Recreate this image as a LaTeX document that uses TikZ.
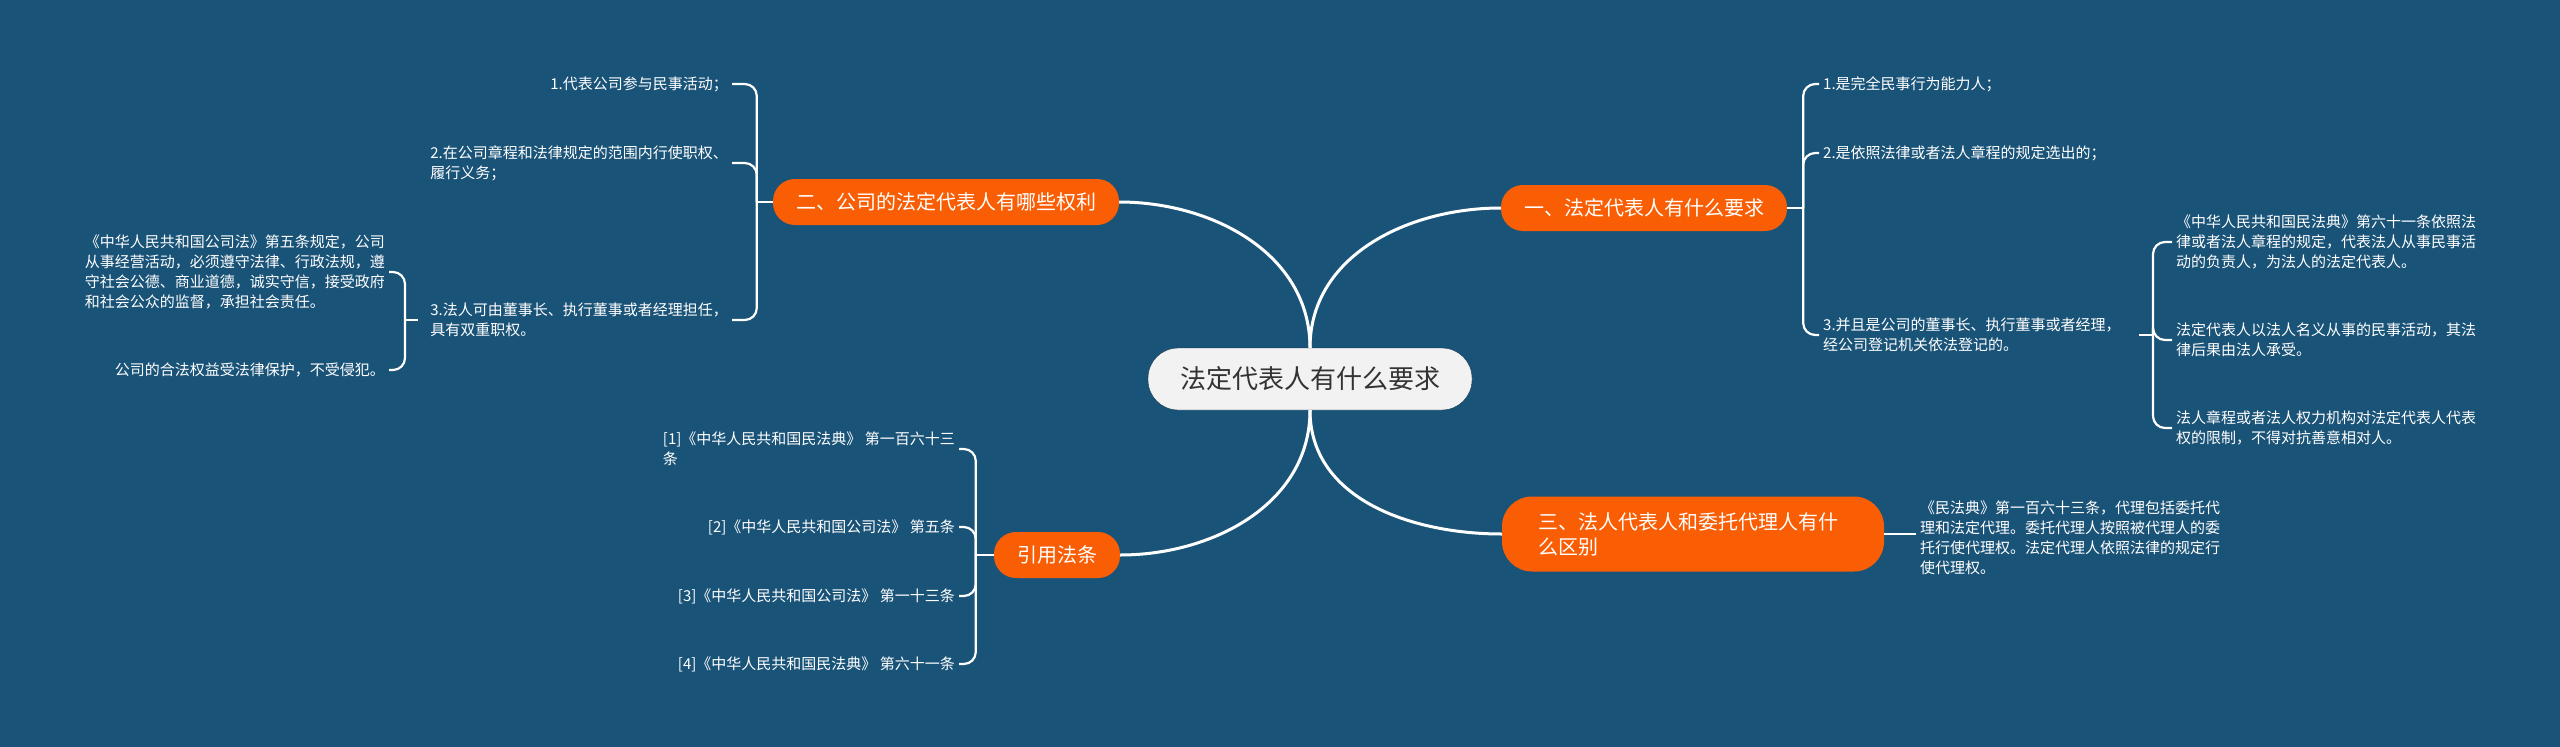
\documentclass[tikz,border=0pt]{standalone}
\usepackage{fontspec}
\setmainfont{Noto Sans CJK SC}
\usetikzlibrary{calc,positioning}
\definecolor{backblue}{RGB}{26,83,120}
\definecolor{topicorange}{RGB}{249,94,4}
\definecolor{rootgrey}{RGB}{242,242,242}
\definecolor{roottext}{RGB}{51,51,51}
\tikzset{
   root/.style={ rectangle, fill=rootgrey, draw=backblue!60!black, thin, text=roottext, rounded corners=30pt, minimum height=62pt, inner xsep=32pt, inner ysep=0pt, font=\fontsize{26}{30}\selectfont},
   topic/.style={ rectangle, fill=topicorange, text=white, rounded corners=22pt, minimum height=46pt, inner xsep=23pt, inner ysep=0pt, font=\fontsize{20}{25}\selectfont},
   leaf/.style={ text=white, inner sep=4pt, align=left, font=\fontsize{15}{20}\selectfont},
   trunk/.style={ draw=white, line width=3pt},
   brace/.style={ draw=white, line width=2.2pt, rounded corners=12pt}
}

\begin{document}
\begin{tikzpicture}[x=1pt,y=-1pt]

  \fill[backblue] (0,0) rectangle (2560,747);
  \useasboundingbox (0,0) rectangle (2560,747);

  \node[root] at (1310,379) (root) {法定代表人有什么要求};

  \node[topic] at (1644,208) (requirements) {一、法定代表人有什么要求};
  \node[topic] at (946,202)  (powers)       {二、公司的法定代表人有哪些权利};
  \node[topic, text width=310pt, align=left, rounded corners=30pt, inner xsep=36pt, minimum height=75pt] at (1693,534) (difference) {三、法人代表人和委托代理人有什\\么区别};
  \node[topic] at (1057,555) (citations)    {引用法条};

  %%%%%%%%%%%

  \node[leaf, anchor=west] at (1819,84)  (req 1) {1.是完全民事行为能力人；};
  \node[leaf, anchor=west] at (1819,153) (req 2) {2.是依照法律或者法人章程的规定选出的；};
  \node[leaf, anchor=west] at (1819,335) (req 3) {3.并且是公司的董事长、执行董事或者经理，\\经公司登记机关依法登记的。};

  \node[leaf, anchor=west] at (2172,242) (req 3 a) {《中华人民共和国民法典》第六十一条依照法\\律或者法人章程的规定，代表法人从事民事活\\动的负责人，为法人的法定代表人。};
  \node[leaf, anchor=west] at (2172,340) (req 3 b) {法定代表人以法人名义从事的民事活动，其法\\律后果由法人承受。};
  \node[leaf, anchor=west] at (2172,428) (req 3 c) {法人章程或者法人权力机构对法定代表人代表\\权的限制，不得对抗善意相对人。};

  \node[leaf, anchor=east] at (732,84)  (pow 1) {1.代表公司参与民事活动；};
  \node[leaf, anchor=east] at (732,163) (pow 2) {2.在公司章程和法律规定的范围内行使职权、\\履行义务；};
  \node[leaf, anchor=east] at (732,320) (pow 3) {3.法人可由董事长、执行董事或者经理担任，\\具有双重职权。};

  \node[leaf, anchor=east] at (389,272) (pow 3 a) {《中华人民共和国公司法》第五条规定，公司\\从事经营活动，必须遵守法律、行政法规，遵\\守社会公德、商业道德，诚实守信，接受政府\\和社会公众的监督，承担社会责任。};
  \node[leaf, anchor=east] at (389,370) (pow 3 b) {公司的合法权益受法律保护，不受侵犯。};

  \node[leaf, anchor=west] at (1916,538) (diff 1) {《民法典》第一百六十三条，代理包括委托代\\理和法定代理。委托代理人按照被代理人的委\\托行使代理权。法定代理人依照法律的规定行\\使代理权。};

  \node[leaf, anchor=east] at (959,449) (cite 1) {[1]《中华人民共和国民法典》 第一百六十三\\条};
  \node[leaf, anchor=east] at (959,527) (cite 2) {[2]《中华人民共和国公司法》 第五条};
  \node[leaf, anchor=east] at (959,596) (cite 3) {[3]《中华人民共和国公司法》 第一十三条};
  \node[leaf, anchor=east] at (959,664) (cite 4) {[4]《中华人民共和国民法典》 第六十一条};

  %%%%%%%%%%%

  \node[coordinate] at ($(requirements.east)+(16,0)$) (req hub)   {};
  \node[coordinate] at (2153,335)                      (req 3 hub) {};
  \node[coordinate] at ($(powers.west)+(-16,0)$)       (pow hub)   {};
  \node[coordinate] at (405,320)                       (pow 3 hub) {};
  \node[coordinate] at ($(citations.west)+(-18,0)$)    (cite hub)  {};

  %%%%%%%%%%%

  \draw[trunk] (root.north) to[out=90,in=180]  (requirements.west);
  \draw[trunk] (root.north) to[out=90,in=0]    (powers.east);
  \draw[trunk] (root.south) to[out=-90,in=180] (difference.west);
  \draw[trunk] (root.south) to[out=-90,in=0]   (citations.east);

  \draw[brace] (requirements.east) -- (req hub);
  \draw[brace] (req hub) |- (req 1.west);
  \draw[brace] (req hub) |- (req 2.west);
  \draw[brace] (req hub) |- (req 3.west);

  \draw[brace, shorten <=14pt] (req 3.east) -- (req 3 hub);
  \draw[brace] (req 3 hub) |- (req 3 a.west);
  \draw[brace] (req 3 hub) |- (req 3 b.west);
  \draw[brace] (req 3 hub) |- (req 3 c.west);

  \draw[brace] (powers.west) -- (pow hub);
  \draw[brace] (pow hub) |- (pow 1.east);
  \draw[brace] (pow hub) |- (pow 2.east);
  \draw[brace] (pow hub) |- (pow 3.east);

  \draw[brace, shorten <=8pt] (pow 3.west) -- (pow 3 hub);
  \draw[brace] (pow 3 hub) |- (pow 3 a.east);
  \draw[brace] (pow 3 hub) |- (pow 3 b.east);

  \draw[brace] (difference.east) -- (difference.east -| diff 1.west);

  \draw[brace] (citations.west) -- (cite hub);
  \draw[brace] (cite hub) |- (cite 1.east);
  \draw[brace] (cite hub) |- (cite 2.east);
  \draw[brace] (cite hub) |- (cite 3.east);
  \draw[brace] (cite hub) |- (cite 4.east);

\end{tikzpicture}
\end{document}
